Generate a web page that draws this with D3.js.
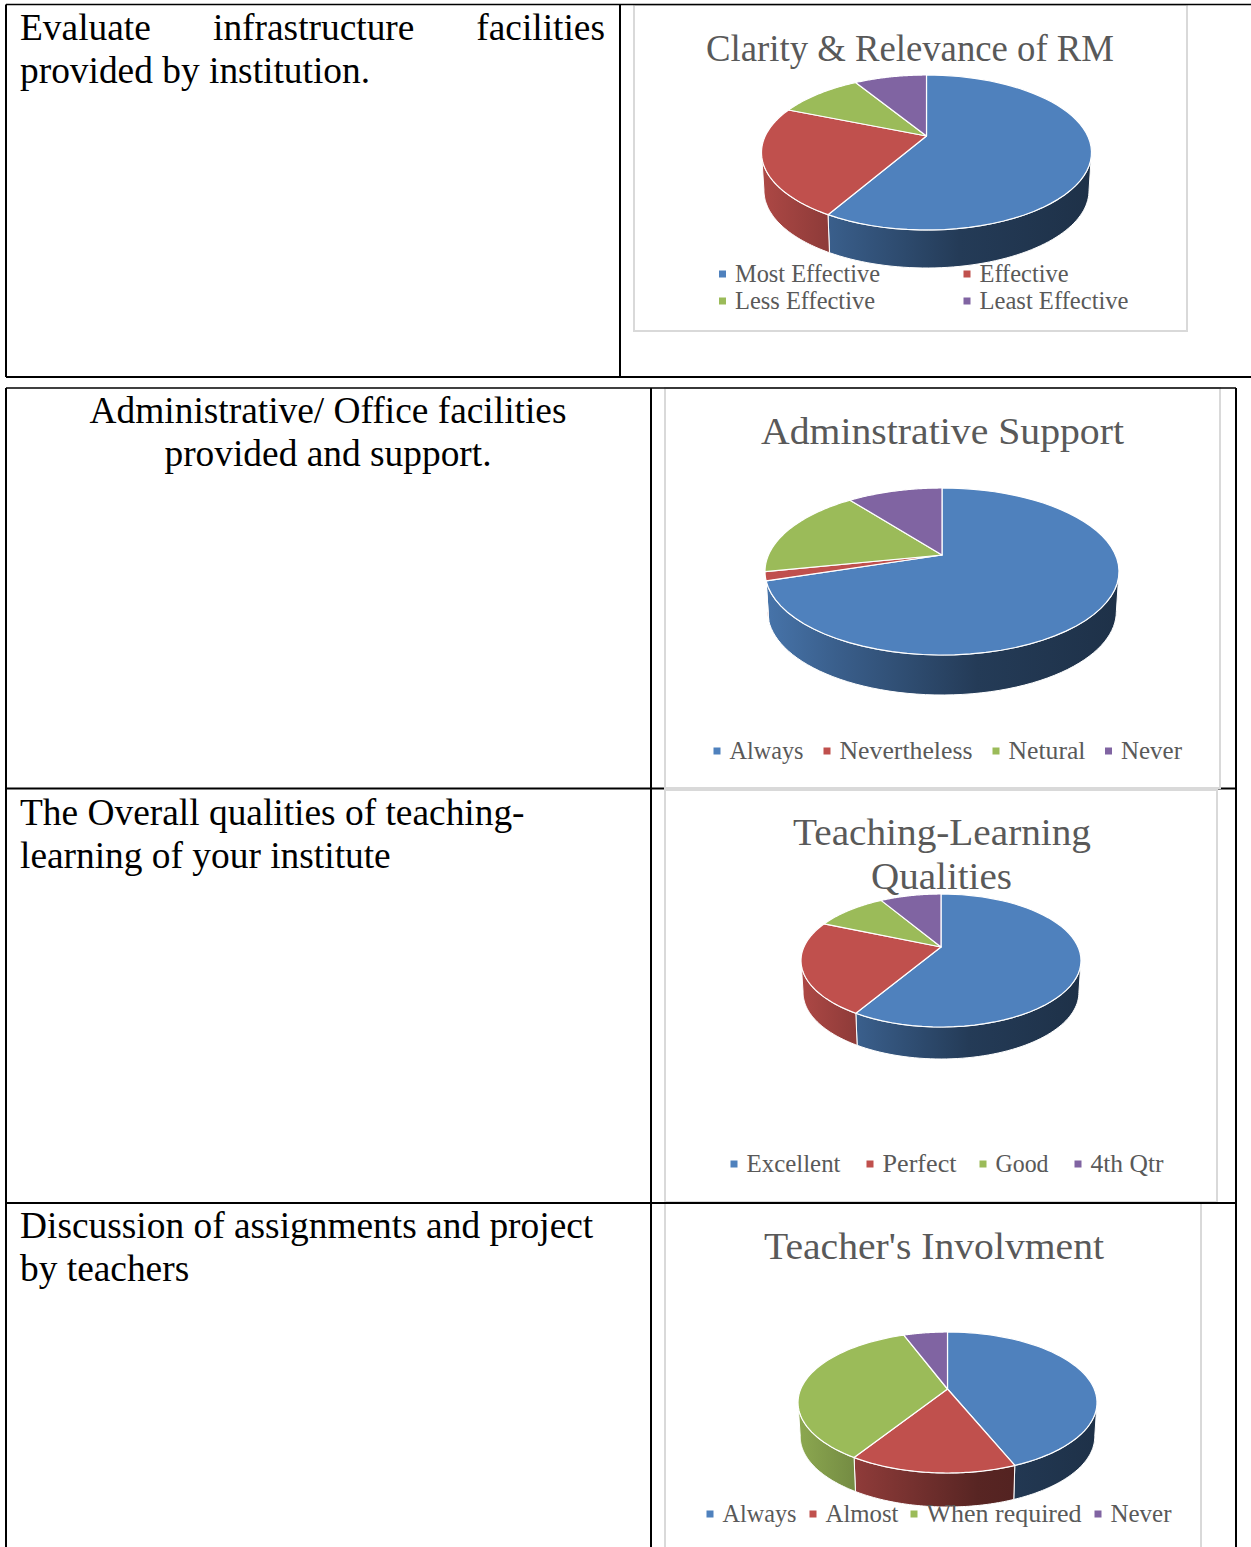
<!DOCTYPE html>
<html>
<head>
<meta charset="utf-8">
<script src="https://cdn.jsdelivr.net/npm/d3@7"></script>
<style>
  html, body { margin: 0; padding: 0; background: #fff; }
  svg { display: block; }
  .cell { font-family: "Liberation Serif", serif; font-size: 37.4px; fill: #000; }
  .title { font-family: "Liberation Serif", serif; font-size: 38px; fill: #595959; }
  .legend { font-family: "Liberation Serif", serif; font-size: 24.5px; fill: #595959; }
</style>
</head>
<body>
<script>
var svgWidth = 1251;
var svgHeight = 1547;

var colors = ["#4f81bd", "#c0504d", "#9bbb59", "#8064a2"];

// values
var rmLabels = ["Most Effective", "Effective", "Less Effective", "Least Effective"];
var rmValues = [58.3, 22.9, 10.1, 8.7];
var adminLabels = ["Always", "Nevertheless", "Netural", "Never"];
var adminValues = [70.1, 1.7, 17.7, 10.5];
var teachLabels = ["Excellent", "Perfect", "Good", "4th Qtr"];
var teachValues = [8.2, 3.2, 1.4, 1.2];
var involveLabels = ["Always", "Almost", "When required", "Never"];
var involveValues = [43.8, 15.1, 35.3, 5.7];

var svg = d3.select("body")
    .append("svg")
    .attr("width", svgWidth)
    .attr("height", svgHeight);

var defs = svg.append("defs");

function drawRules(list) {
    list.forEach(function (d) {
        svg.append("line")
            .attr("x1", d[0])
            .attr("y1", d[1])
            .attr("x2", d[2])
            .attr("y2", d[3])
            .attr("stroke", "#000")
            .attr("stroke-width", d[4]);
    });
}

// table rules the chart boxes cover
drawRules([
    [6, 4.5, 6, 377, 2], [620, 4.5, 620, 377, 2], [6, 377, 1251, 377, 2],
    [6, 388, 6, 1547, 2], [651, 388, 651, 1547, 2], [1236, 388, 1236, 1547, 2],
    [6, 788.5, 1236, 788.5, 2]
]);

// left column text
var cellText = [
    { x: 20, y: 40, t: "Evaluate" },
    { x: 213, y: 40, t: "infrastructure" },
    { x: 605, y: 40, t: "facilities", anchor: "end" },
    { x: 20, y: 83, t: "provided by institution." },
    { x: 328, y: 423, t: "Administrative/ Office facilities", anchor: "middle" },
    { x: 328, y: 466, t: "provided and support.", anchor: "middle" },
    { x: 20, y: 825, t: "The Overall qualities of teaching-" },
    { x: 20, y: 868, t: "learning of your institute" },
    { x: 20, y: 1238, t: "Discussion of assignments and project" },
    { x: 20, y: 1281, t: "by teachers" }
];
svg.selectAll("text.cell")
    .data(cellText)
    .enter()
    .append("text")
    .attr("class", "cell")
    .attr("x", d => d.x)
    .attr("y", d => d.y)
    .attr("text-anchor", d => d.anchor || "start")
    .text(d => d.t);

// how dark the side wall gets going left to right
var wallShade = d3.scaleLinear().domain([0, 0.2, 0.6, 1]).range([0.9, 0.74, 0.46, 0.38]);

function shade(col, f) {
    var c = d3.rgb(col);
    return d3.rgb(c.r * f, c.g * f, c.b * f).formatHex();
}

function drawChart(id, o) {
    var box = svg.append("g");
    box.append("rect")
        .attr("x", o.box[0])
        .attr("y", o.box[1])
        .attr("width", o.box[2] - o.box[0])
        .attr("height", o.box[3] - o.box[1])
        .attr("fill", "#fff")
        .attr("stroke", "#d9d9d9")
        .attr("stroke-width", 2);

    o.title.forEach(function (t) {
        box.append("text")
            .attr("class", "title")
            .attr("x", t.x)
            .attr("y", t.y)
            .attr("textLength", t.w)
            .attr("lengthAdjust", "spacingAndGlyphs")
            .text(t.t);
    });

    // perspective of a circle lying flat: apex is not the middle of the ellipse
    var k = (o.down - o.up) / (o.down + o.up);
    var a = o.up * (1 + k);
    var b = o.rx * Math.sqrt(1 - k * k);

    function project(angle) {
        var X = Math.sin(angle);
        var Y = -Math.cos(angle);
        var w = 1 - k * Y;
        return [o.cx + b * X / w, o.cy + a * Y / w];
    }

    function lower(p) {
        return [o.cx + (p[0] - o.cx) * 0.985, p[1] + o.depth];
    }

    function rim(s, e) {
        return d3.range(0, 61).map(i => project(s + (e - s) * i / 60));
    }

    var pie = d3.pie().sort(null).value(d => d.value);
    var slices = pie(o.values.map((v, i) => ({ value: v, color: colors[i] })));

    var line = d3.line();
    var wallFrom = Math.acos(-k);
    var wallTo = 2 * Math.PI - wallFrom;

    var pieG = box.append("g");

    // side wall, only the part facing the viewer
    slices.forEach(function (d, i) {
        var s = Math.max(d.startAngle, wallFrom);
        var e = Math.min(d.endAngle, wallTo);
        if (e <= s) return;
        var gradId = id + "wall" + i;
        var grad = defs.append("linearGradient")
            .attr("id", gradId)
            .attr("gradientUnits", "userSpaceOnUse")
            .attr("x1", o.cx - o.rx)
            .attr("x2", o.cx + o.rx)
            .attr("y1", 0)
            .attr("y2", 0);
        wallShade.domain().forEach(function (t) {
            grad.append("stop")
                .attr("offset", t)
                .attr("stop-color", shade(d.data.color, wallShade(t)));
        });
        var top = rim(s, e);
        var pts = top.concat(top.map(lower).reverse());
        pieG.append("path")
            .attr("d", line(pts) + "Z")
            .attr("fill", "url(#" + gradId + ")")
            .attr("stroke", "#fff")
            .attr("stroke-width", 1);
    });

    // top face
    pieG.selectAll("path.top")
        .data(slices)
        .enter()
        .append("path")
        .attr("class", "top")
        .attr("d", d => line([[o.cx, o.cy]].concat(rim(d.startAngle, d.endAngle))) + "Z")
        .attr("fill", d => d.data.color)
        .attr("stroke", "#fff")
        .attr("stroke-width", 1.2)
        .attr("stroke-linejoin", "round");

    // legend
    var leg = box.selectAll("g.leg")
        .data(o.labels)
        .enter()
        .append("g")
        .attr("class", "leg")
        .attr("transform", (d, i) => `translate(${o.legendX[i]}, ${o.legendY[i]})`);
    leg.append("rect")
        .attr("x", 0)
        .attr("y", -3.5)
        .attr("width", 7)
        .attr("height", 7)
        .attr("fill", (d, i) => colors[i]);
    leg.append("text")
        .attr("class", "legend")
        .attr("x", 16)
        .attr("y", 7.5)
        .attr("textLength", (d, i) => o.legendW[i])
        .attr("lengthAdjust", "spacingAndGlyphs")
        .text(d => d);
}

drawChart("rm", {
    box: [634, 5, 1187, 331],
    title: [{ x: 706, y: 61, w: 408, t: "Clarity & Relevance of RM" }],
    cx: 926.5, cy: 136, rx: 165, up: 61, down: 94, depth: 38,
    values: rmValues, labels: rmLabels,
    legendX: [719, 963.5, 719, 963.5], legendY: [274, 274, 301, 301],
    legendW: [145, 89, 140, 149]
});

drawChart("admin", {
    box: [665, 388, 1220, 788],
    title: [{ x: 761, y: 444, w: 363, t: "Adminstrative Support" }],
    cx: 942, cy: 555, rx: 177, up: 67, down: 100, depth: 40,
    values: adminValues, labels: adminLabels,
    legendX: [713.5, 823.5, 992.5, 1105], legendY: [751, 751, 751, 751],
    legendW: [74, 133, 77, 61]
});

drawChart("teach", {
    box: [665, 790, 1217, 1202],
    title: [
        { x: 793, y: 845, w: 298, t: "Teaching-Learning" },
        { x: 871, y: 889, w: 141, t: "Qualities" }
    ],
    cx: 941, cy: 947, rx: 140, up: 53, down: 80, depth: 32,
    values: teachValues, labels: teachLabels,
    legendX: [730.5, 866.5, 979.5, 1074.5], legendY: [1164, 1164, 1164, 1164],
    legendW: [94, 74, 53, 73]
});

drawChart("involve", {
    box: [665, 1203, 1201, 1560],
    title: [{ x: 764, y: 1259, w: 340, t: "Teacher's Involvment" }],
    cx: 947.5, cy: 1389, rx: 149.5, up: 57, down: 84, depth: 34,
    values: involveValues, labels: involveLabels,
    legendX: [706.5, 809.5, 910.5, 1094.5], legendY: [1514, 1514, 1514, 1514],
    legendW: [74, 73, 155, 61]
});

// these run over the chart boxes
drawRules([
    [6, 4.5, 1251, 4.5, 1.3],
    [6, 388, 1236, 388, 1.3],
    [6, 1203, 1236, 1203, 1.8]
]);
</script>
</body>
</html>
